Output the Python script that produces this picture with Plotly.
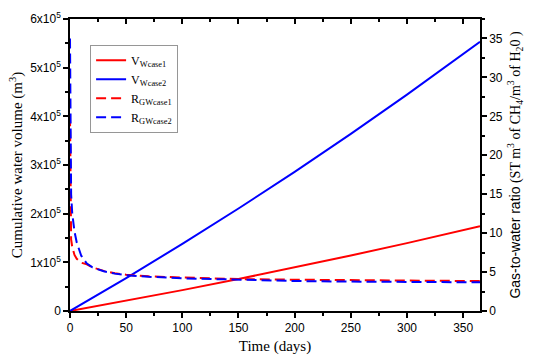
import plotly.graph_objects as go

# --- data ---
days_v = [0, 50, 100, 150, 200, 250, 300, 365]
vw_case1 = [0, 21000, 42900, 65700, 89400, 114000, 139500, 174000]
vw_case2 = [0, 67600, 137900, 210600, 286000, 364000, 444500, 553000]

days_r = [0, 0.3, 0.6, 1, 2, 3, 4, 6, 8, 10, 15, 20, 30, 40, 50, 70, 100, 150, 200, 250, 300, 365]
rgw_case1 = [25, 14, 10, 9.2, 8.2, 7.6, 7.2, 6.7, 6.4, 6.2, 6.0, 5.6, 5.15, 4.85, 4.65, 4.45, 4.3, 4.1, 4.02, 3.96, 3.9, 3.84]
rgw_case2 = [35, 24, 19, 15, 12.5, 11.3, 10.2, 8.8, 7.8, 7.1, 6.1, 5.6, 5.1, 4.8, 4.6, 4.4, 4.2, 4.0, 3.85, 3.78, 3.72, 3.68]

left_tickvals = [0, 100000, 200000, 300000, 400000, 500000, 600000]
left_ticktext = ["0"] + [f"{i}x10<sup>5</sup>" for i in range(1, 7)]

RED = "rgb(255,0,0)"
BLUE = "rgb(0,0,255)"
SERIF = "Liberation Serif"
SANS = "Liberation Sans"

fig = go.Figure()
fig.add_trace(go.Scatter(x=days_v, y=vw_case1, mode="lines", name="V<sub>Wcase1</sub>",
                         line=dict(color=RED, width=2), yaxis="y"))
fig.add_trace(go.Scatter(x=days_v, y=vw_case2, mode="lines", name="V<sub>Wcase2</sub>",
                         line=dict(color=BLUE, width=2), yaxis="y"))
fig.add_trace(go.Scatter(x=days_r, y=rgw_case1, mode="lines", name="R<sub>GWcase1</sub>",
                         line=dict(color=RED, width=2, dash="10px,5px"), yaxis="y2"))
fig.add_trace(go.Scatter(x=days_r, y=rgw_case2, mode="lines", name="R<sub>GWcase2</sub>",
                         line=dict(color=BLUE, width=2, dash="10px,5px"), yaxis="y2"))
# dummy trace to render the top mirrored axis
fig.add_trace(go.Scatter(x=[None], y=[None], xaxis="x3", yaxis="y", showlegend=False,
                         hoverinfo="skip"))

axis_common = dict(showline=True, linecolor="black", linewidth=1.5, showgrid=False,
                   zeroline=False, tickcolor="black", tickwidth=1.5,
                   tickfont=dict(family=SANS, size=12, color="black"))

fig.update_layout(
    width=533, height=362,
    margin=dict(l=70, r=53, t=10, b=49),
    plot_bgcolor="white", paper_bgcolor="white",
    showlegend=True,
    legend=dict(x=0.049, y=0.912, xanchor="left", yanchor="top",
                bordercolor="rgb(150,150,150)", borderwidth=1, bgcolor="white",
                font=dict(family=SERIF, size=12, color="black"),
                tracegroupgap=0, itemwidth=30),
    xaxis=dict(range=[0, 365], tickmode="linear", tick0=0, dtick=50,
               ticks="outside", ticklen=5,
               minor=dict(tickmode="linear", tick0=0, dtick=25, ticks="outside", ticklen=3,
                          tickcolor="black", tickwidth=1.5),
               title=dict(text="Time (days)", font=dict(family=SERIF, size=15, color="black"),
                          standoff=6),
               **axis_common),
    xaxis3=dict(range=[0, 365], overlaying="x", side="top", anchor="y", matches="x",
                tickmode="linear", tick0=0, dtick=50, ticks="inside", ticklen=5,
                showticklabels=False,
                minor=dict(tickmode="linear", tick0=0, dtick=25, ticks="inside", ticklen=3,
                           tickcolor="black", tickwidth=1.5),
                **axis_common),
    yaxis=dict(range=[0, 600000], tickmode="array", tickvals=left_tickvals,
               ticktext=left_ticktext, ticks="outside", ticklen=5,
               minor=dict(tickmode="linear", tick0=0, dtick=50000, ticks="outside", ticklen=3,
                          tickcolor="black", tickwidth=1.5),
               title=dict(text="Cumulative water volume (m<sup>3</sup>)",
                          font=dict(family=SERIF, size=15, color="black"), standoff=4),
               **axis_common),
    yaxis2=dict(range=[0, 37.5], overlaying="y", side="right", anchor="x",
                tickmode="linear", tick0=0, dtick=5, ticks="outside", ticklen=5,
                minor=dict(tickmode="linear", tick0=0, dtick=2.5, ticks="outside", ticklen=3,
                           tickcolor="black", tickwidth=1.5),
                title=dict(text="<span style=\"font-family:'Liberation Sans'\">Gas-to-water ratio</span> (ST m<sup>3</sup> of CH<sub>4</sub>/m<sup>3</sup> of H<sub>2</sub>0 )",
                           font=dict(family=SERIF, size=14, color="black"), standoff=8),
                **axis_common),
)

fig.write_html("out.html", config={"displayModeBar": False},
               post_script="document.body.style.margin='0px';")
